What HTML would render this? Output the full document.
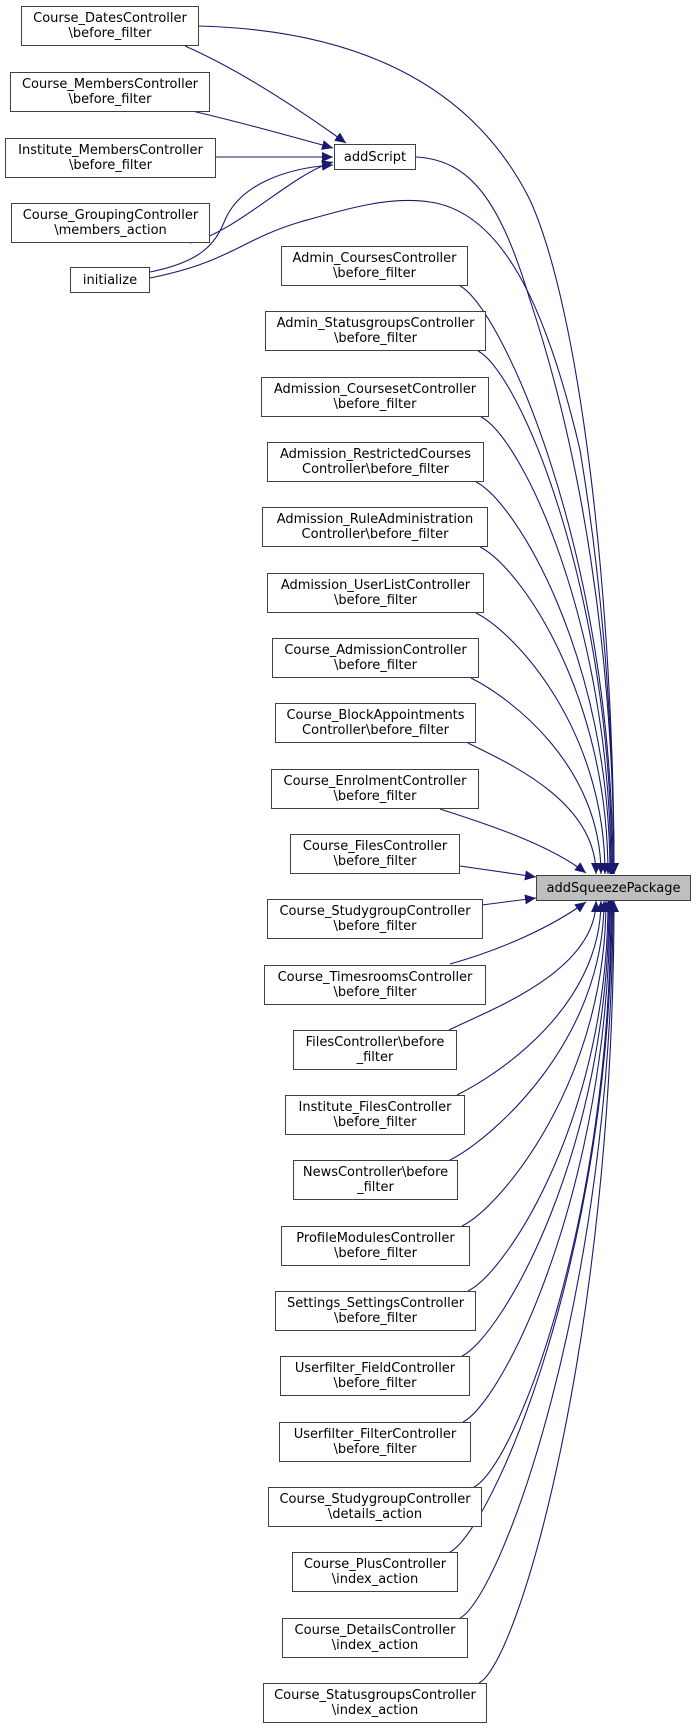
<!DOCTYPE html>
<html><head><meta charset="utf-8"><style>
html,body{margin:0;padding:0;background:#fff;}
body{width:696px;height:1729px;position:relative;overflow:hidden;font-family:"DejaVu Sans","Liberation Sans",sans-serif;}
.n{position:absolute;box-sizing:border-box;border:1px solid #404040;background:#fff;display:flex;align-items:center;justify-content:center;text-align:center;font-size:13px;line-height:15px;color:#000;white-space:nowrap;height:40px;}
.s{height:26px;}
svg{position:absolute;left:0;top:0;}
</style></head><body>
<svg width="696" height="1729" viewBox="0 0 696 1729">
<defs><marker id="a" markerUnits="userSpaceOnUse" markerWidth="12" markerHeight="10" refX="11" refY="5" orient="auto"><path d="M0,0 L11,5 L0,10 z" fill="#191970"/></marker></defs>
<g fill="none" stroke="#191970" stroke-width="1.1" marker-end="url(#a)">
<path d="M185,46 C240,70 300,110 346,143"/>
<path d="M192,111 C240,122 290,136 333,148"/>
<path d="M216,157 L333,157"/>
<path d="M190,243 C240,230 290,175 333,162"/>
<path d="M150,272 C200,262 215,245 225,220 C240,185 285,168 333,165"/>
<path d="M199,26 C350,30 470,80 530,200 C580,310 614,600 614,874"/>
<path d="M416,157 C470,160 500,200 530,300 C580,450 614,650 614,874"/>
<path d="M150,278 C230,262 240,240 300,222 C350,208 390,196 430,202 C500,212 545,300 580,450 C605,600 614,750 614,874"/>
<path d="M460,286 C500,306 613,550 613,874"/>
<path d="M478,351 C518,371 612,586 612,874"/>
<path d="M481,417 C521,437 611,622 611,874"/>
<path d="M476,482 C516,502 610,658 610,874"/>
<path d="M480,547 C520,567 608,694 608,874"/>
<path d="M476,613 C516,633 605,730 605,874"/>
<path d="M471,678 C511,698 601,766 601,874"/>
<path d="M468,743 C508,763 596,801 596,874"/>
<path d="M440,809 C490,825 550,845 586,873"/>
<path d="M460,866 L536,877"/>
<path d="M482,905 L536,898"/>
<path d="M450,964 C500,950 550,928 586,902"/>
<path d="M449,1030 C489,1010 596,972 596,901"/>
<path d="M457,1095 C497,1075 601,1008 601,901"/>
<path d="M450,1160 C490,1140 604,1043 604,901"/>
<path d="M462,1226 C502,1206 606,1080 606,901"/>
<path d="M468,1291 C508,1271 608,1115 608,901"/>
<path d="M462,1356 C502,1336 609,1151 609,901"/>
<path d="M463,1422 C503,1402 610,1188 610,901"/>
<path d="M474,1487 C514,1467 611,1223 611,901"/>
<path d="M450,1552 C490,1532 612,1259 612,901"/>
<path d="M460,1618 C500,1598 613,1295 613,901"/>
<path d="M479,1683 C519,1663 614,1331 614,901"/>
</g>
</svg>
<div class="n" style="left:21px;top:6px;width:178px;">Course_DatesController<br>\before_filter</div>
<div class="n" style="left:10px;top:72px;width:200px;">Course_MembersController<br>\before_filter</div>
<div class="n" style="left:5px;top:138px;width:211px;">Institute_MembersController<br>\before_filter</div>
<div class="n" style="left:11px;top:203px;width:199px;">Course_GroupingController<br>\members_action</div>
<div class="n s" style="left:70px;top:267px;width:80px;">initialize</div>
<div class="n s" style="left:334px;top:144px;width:82px;">addScript</div>
<div class="n s" style="left:536px;top:875px;width:155px;background:#bfbfbf;">addSqueezePackage</div>

<div class="n" style="left:281px;top:246px;width:187px;">Admin_CoursesController<br>\before_filter</div>
<div class="n" style="left:265px;top:311px;width:221px;">Admin_StatusgroupsController<br>\before_filter</div>
<div class="n" style="left:261px;top:377px;width:228px;">Admission_CoursesetController<br>\before_filter</div>
<div class="n" style="left:267px;top:442px;width:217px;">Admission_RestrictedCourses<br>Controller\before_filter</div>
<div class="n" style="left:262px;top:507px;width:226px;">Admission_RuleAdministration<br>Controller\before_filter</div>
<div class="n" style="left:267px;top:573px;width:217px;">Admission_UserListController<br>\before_filter</div>
<div class="n" style="left:272px;top:638px;width:207px;">Course_AdmissionController<br>\before_filter</div>
<div class="n" style="left:275px;top:703px;width:201px;">Course_BlockAppointments<br>Controller\before_filter</div>
<div class="n" style="left:271px;top:769px;width:208px;">Course_EnrolmentController<br>\before_filter</div>
<div class="n" style="left:290px;top:834px;width:170px;">Course_FilesController<br>\before_filter</div>
<div class="n" style="left:267px;top:899px;width:216px;">Course_StudygroupController<br>\before_filter</div>
<div class="n" style="left:264px;top:965px;width:222px;">Course_TimesroomsController<br>\before_filter</div>
<div class="n" style="left:293px;top:1030px;width:164px;">FilesController\before<br>_filter</div>
<div class="n" style="left:285px;top:1095px;width:180px;">Institute_FilesController<br>\before_filter</div>
<div class="n" style="left:293px;top:1160px;width:165px;">NewsController\before<br>_filter</div>
<div class="n" style="left:281px;top:1226px;width:189px;">ProfileModulesController<br>\before_filter</div>
<div class="n" style="left:275px;top:1291px;width:201px;">Settings_SettingsController<br>\before_filter</div>
<div class="n" style="left:280px;top:1356px;width:190px;">Userfilter_FieldController<br>\before_filter</div>
<div class="n" style="left:279px;top:1422px;width:192px;">Userfilter_FilterController<br>\before_filter</div>
<div class="n" style="left:268px;top:1487px;width:214px;">Course_StudygroupController<br>\details_action</div>
<div class="n" style="left:292px;top:1552px;width:166px;">Course_PlusController<br>\index_action</div>
<div class="n" style="left:282px;top:1618px;width:186px;">Course_DetailsController<br>\index_action</div>
<div class="n" style="left:263px;top:1683px;width:224px;">Course_StatusgroupsController<br>\index_action</div>
</body></html>
